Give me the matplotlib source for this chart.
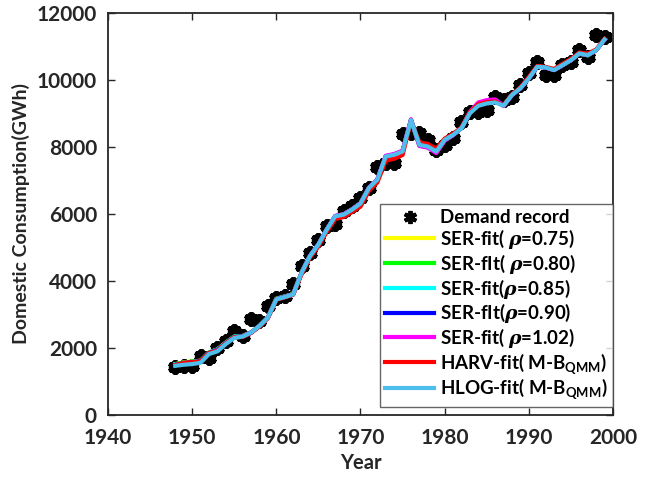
import numpy as np
import matplotlib
matplotlib.use('Agg')
import matplotlib.pyplot as plt

plt.rcParams['font.family'] = ['Lato', 'DejaVu Sans']
plt.rcParams['font.weight'] = 'bold'
plt.rcParams['mathtext.fontset'] = 'custom'
plt.rcParams['mathtext.rm'] = 'Lato:bold'
plt.rcParams['mathtext.bf'] = 'Lato:bold'
plt.rcParams['mathtext.it'] = 'DejaVu Serif:italic'

years = list(range(1948, 2000))

demand = [1418, 1468, 1468, 1766, 1716, 2014, 2212, 2510, 2361, 2857,
          2807, 3254, 3502, 3551, 3899, 4444, 4841, 5238, 5635, 5714,
          6081, 6230, 6478, 6775, 7400, 7519, 7519, 8382, 8412, 8412,
          8214, 7916, 8065, 8263, 8760, 9057, 9057, 9107, 9503, 9404,
          9503, 9851, 10198, 10545, 10148, 10148, 10446, 10545, 10892, 10694,
          11339, 11289]

hlog_fit = [1468, 1500, 1520, 1560, 1820, 1900, 2120, 2300, 2341, 2460,
            2659, 2907, 3452, 3520, 3600, 4245, 4742, 5089, 5535, 5932,
            5980, 6130, 6310, 6775, 7023, 7718, 7767, 7866, 8809, 8065,
            8015, 7866, 8214, 8362, 8561, 9007, 9230, 9300, 9330, 9230,
            9553, 9752, 10049, 10396, 10376, 10297, 10446, 10594, 10793, 10743,
            10892, 11210]

harv_fit = [1490, 1560, 1580, 1600, 1850, 1920, 2140, 2320, 2330, 2450,
            2640, 2890, 3440, 3510, 3590, 4200, 4700, 5030, 5470, 5850,
            5910, 6060, 6220, 6690, 6940, 7590, 7650, 7760, 8780, 8140,
            8090, 7950, 8250, 8400, 8580, 9040, 9280, 9340, 9360, 9240,
            9570, 9780, 10090, 10420, 10390, 10330, 10480, 10630, 10820, 10790,
            10910, 11230]

ser_075 = [1520, 1570, 1600, 1620, 1870, 1960, 2160, 2340, 2360, 2470,
           2660, 2910, 3470, 3540, 3610, 4250, 4750, 5090, 5540, 5940,
           5990, 6140, 6320, 6780, 7030, 7720, 7780, 7880, 8810, 8040,
           7990, 7840, 8200, 8360, 8570, 9030, 9290, 9360, 9390, 9240,
           9560, 9760, 10060, 10400, 10380, 10300, 10440, 10590, 10790, 10740,
           10890, 11210]
ser_080 = [1515, 1565, 1595, 1615, 1865, 1955, 2160, 2340, 2355, 2465,
           2660, 2910, 3465, 3535, 3605, 4248, 4748, 5090, 5538, 5938,
           5988, 6138, 6318, 6780, 7028, 7720, 7778, 7878, 8810, 8042,
           7992, 7842, 8202, 8362, 8570, 9030, 9295, 9365, 9395, 9240,
           9560, 9760, 10058, 10400, 10380, 10300, 10442, 10592, 10790, 10740,
           10890, 11210]
ser_085 = [1505, 1555, 1585, 1610, 1860, 1950, 2150, 2335, 2350, 2462,
           2660, 2908, 3460, 3530, 3602, 4246, 4746, 5090, 5536, 5936,
           5985, 6135, 6315, 6778, 7026, 7720, 7775, 7875, 8810, 8045,
           7995, 7845, 8205, 8362, 8568, 9028, 9300, 9370, 9400, 9238,
           9558, 9758, 10055, 10398, 10378, 10298, 10444, 10594, 10792, 10742,
           10891, 11210]
ser_090 = [1500, 1550, 1580, 1605, 1855, 1945, 2145, 2330, 2348, 2460,
           2660, 2908, 3458, 3528, 3600, 4245, 4745, 5090, 5535, 5935,
           5983, 6133, 6313, 6777, 7025, 7720, 7773, 7873, 8810, 8048,
           7998, 7848, 8208, 8362, 8566, 9026, 9305, 9375, 9405, 9236,
           9556, 9756, 10052, 10397, 10377, 10297, 10445, 10594, 10793, 10743,
           10891, 11210]
ser_102 = [1485, 1535, 1560, 1590, 1840, 1930, 2135, 2320, 2340, 2455,
           2655, 2905, 3455, 3525, 3600, 4245, 4745, 5090, 5540, 5945,
           5990, 6140, 6320, 6785, 7035, 7740, 7790, 7890, 8830, 8030,
           7980, 7820, 8190, 8350, 8570, 9050, 9330, 9400, 9420, 9220,
           9550, 9750, 10050, 10395, 10375, 10295, 10445, 10594, 10793, 10743,
           10892, 11210]

fits = [
    (ser_075, [1, 1, 0], r'SER-fit( $\rho$=0.75)'),
    (ser_080, [0, 1, 0], r'SER-fIt( $\rho$=0.80)'),
    (ser_085, [0, 1, 1], r'SER-fit($\rho$=0.85)'),
    (ser_090, [0, 0, 1], r'SER-fIt($\rho$=0.90)'),
    (ser_102, [1, 0, 1], r'SER-fit( $\rho$=1.02)'),
    (harv_fit, [1, 0, 0], r'HARV-fit( M-B$_{\mathrm{QMM}}$)'),
    (hlog_fit, [0.3, 0.75, 0.93], r'HLOG-fit( M-B$_{\mathrm{QMM}}$)'),
]

fig = plt.figure(figsize=(6.55, 4.79), dpi=100)
ax = fig.add_axes([108 / 655, 1 - 415 / 479, 505 / 655, 402 / 479])

# demand record as thick asterisks
ax.plot(years, demand, linestyle='none', marker=(6, 2, 0), markersize=10.5,
        markeredgewidth=2.8, color='k', label='Demand record')
ax.plot(years, demand, linestyle='none', marker=(6, 2, 30), markersize=9.5,
        markeredgewidth=2.4, color='k')

for vals, col, lab in fits:
    ax.plot(years, vals, color=col, linewidth=3, label=lab)

ax.set_xlim(1940, 2000)
ax.set_ylim(0, 12000)
ax.set_xticks(range(1940, 2001, 10))
ax.set_yticks(range(0, 12001, 2000))
ax.tick_params(direction='in', top=True, right=True, labelsize=15,
               length=5, width=1, colors='#262626')
ax.tick_params(axis='y', pad=8)
ax.tick_params(axis='x', pad=9)
for s in ax.spines.values():
    s.set_linewidth(1.3)
    s.set_color('#262626')
ax.set_xlabel('Year', fontsize=14.5, fontweight='bold', color='#262626', labelpad=4)
ax.set_ylabel('Domestic Consumption(GWh)', fontsize=14, fontweight='bold',
              color='#262626', labelpad=5)

leg = ax.legend(loc='lower right', bbox_to_anchor=(1.0, 0.02), borderaxespad=0,
                fontsize=13.5, frameon=True, fancybox=False, edgecolor='#404040',
                handlelength=2.6, handletextpad=0.3, labelspacing=0.04,
                borderpad=0.3, markerscale=0.9)
leg.get_frame().set_linewidth(1)

fig.savefig('out.png', dpi=100)
